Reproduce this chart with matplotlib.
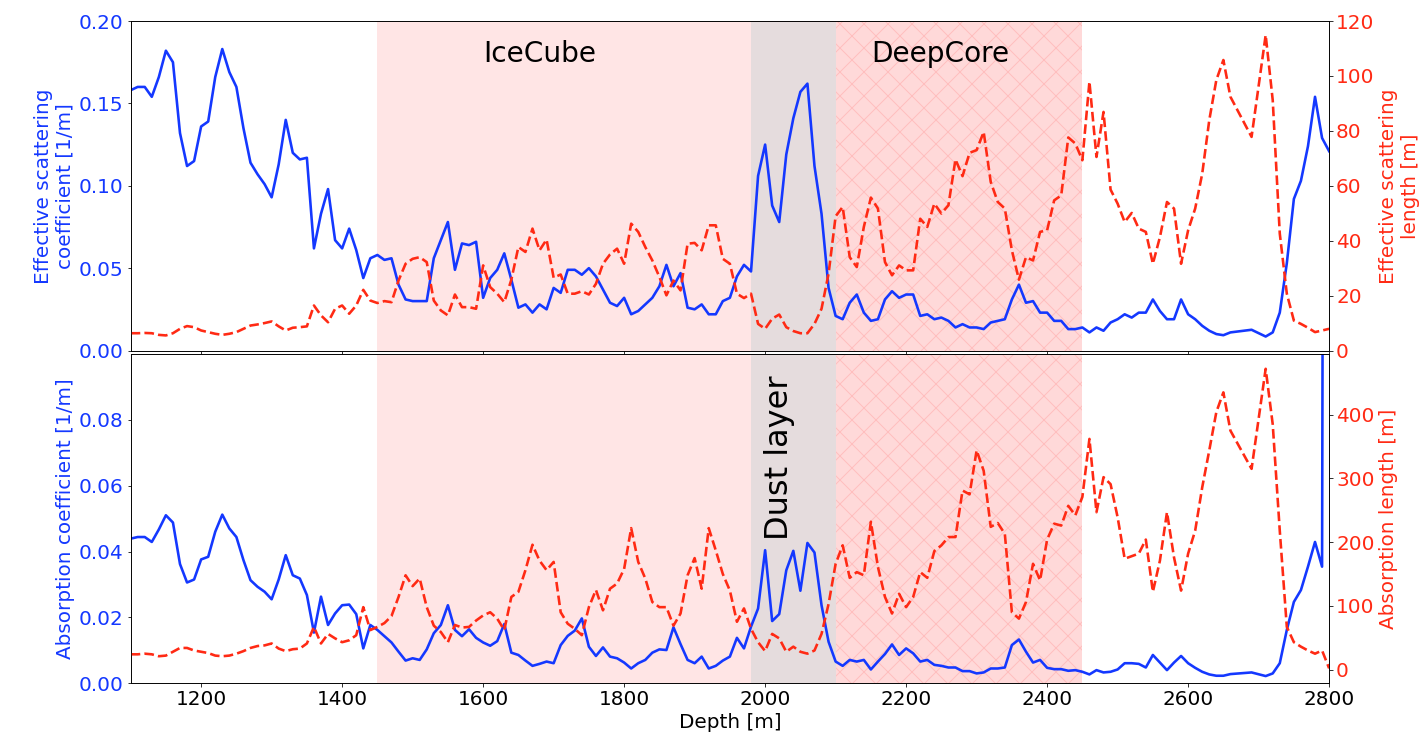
import matplotlib
matplotlib.use('Agg')
import matplotlib.pyplot as plt

depth = list(range(1100, 2670, 10)) + [2690] + list(range(2710, 2810, 10))

scat_coef = [
    .158, .160, .160, .154, .166, .182, .175, .132, .112, .115,
    .136, .139, .166, .183, .169, .160, .135, .114, .107, .101,
    .093, .113, .140, .120, .116, .117, .062, .083, .098, .067,
    .062, .074, .061, .044, .056, .058, .055, .056, .040, .031,
    .030, .030, .030, .056, .067, .078, .049, .065, .064, .066,
    .032, .044, .049, .059, .043, .026, .028, .023, .028, .025,
    .038, .035, .049, .049, .046, .050, .045, .037, .029, .027,
    .032, .022, .024, .028, .032, .039, .052, .039, .047, .026,
    .025, .028, .022, .022, .030, .032, .045, .052, .048, .106,
    .125, .088, .078, .119, .141, .157, .162, .112, .083, .038,
    .021, .019, .029, .034, .023, .018, .019, .031, .036, .032,
    .034, .034, .021, .022, .019, .020, .018, .014, .016, .014,
    .014, .013, .017, .018, .019, .031, .040, .029, .030, .023,
    .023, .018, .018, .013, .013, .014, .011, .014, .012, .017,
    .019, .022, .020, .023, .023, .031, .024, .019, .019, .031,
    .022, .019, .015, .012, .010, .0093, .011, .0126, .0085, .011,
    .023, .053, .092, .103, .124, .154, .129, .121,
]

scat_len = [
    6.3, 6.3, 6.4, 6.3, 5.7, 5.5, 6.3, 7.9, 8.9, 8.5,
    7.3, 6.7, 6.1, 5.7, 6.1, 6.7, 7.9, 9.1, 9.5, 10.0,
    10.6, 8.8, 7.3, 8.3, 8.5, 8.8, 16.4, 12.8, 10.3, 15.2,
    16.4, 13.4, 16.4, 22.1, 18.2, 17.3, 18.0, 17.6, 25.5, 31.6,
    33.4, 34.0, 32.2, 18.2, 14.6, 12.8, 20.4, 15.8, 15.8, 15.2,
    31.0, 23.1, 20.7, 17.6, 25.8, 37.7, 35.9, 44.4, 36.5, 40.4,
    26.5, 27.7, 20.7, 20.7, 21.6, 20.4, 24.3, 31.6, 35.0, 37.1,
    31.6, 46.2, 43.2, 37.7, 32.8, 26.8, 20.1, 25.5, 21.9, 38.9,
    39.2, 36.5, 45.6, 45.6, 33.4, 31.6, 20.7, 19.1, 20.7, 9.7,
    7.9, 11.6, 13.1, 8.5, 7.1, 6.3, 6.3, 9.7, 15.2, 28.0,
    48.9, 52.3, 34.0, 30.4, 45.0, 55.7, 51.7, 32.2, 27.4, 31.0,
    29.2, 29.2, 48.0, 45.0, 53.5, 49.9, 52.9, 69.6, 63.5, 72.0,
    73.0, 79.6, 61.4, 54.1, 51.7, 36.5, 25.8, 34.0, 32.8, 43.2,
    43.8, 54.7, 56.5, 77.6, 75.4, 69.3, 97.9, 70.5, 86.9, 58.6,
    53.5, 46.8, 50.1, 44.4, 43.2, 31.6, 41.3, 54.1, 51.7, 31.6,
    43.8, 51.7, 64.4, 83.9, 98.5, 105.8, 92.4, 77.8, 114.9, 91.2,
    42.6, 20.7, 10.9, 9.7, 8.3, 6.7, 7.3, 7.9,
]

abs_coef = [
    .0439, .0444, .0444, .0429, .0467, .0510, .0488, .0362, .0306, .0315,
    .0376, .0384, .0460, .0512, .0470, .0444, .0374, .0313, .0293, .0278,
    .0255, .0315, .0389, .0328, .0318, .0268, .0154, .0263, .0177, .0212,
    .0237, .0239, .0210, .0106, .0177, .0162, .0143, .0124, .0096, .0069,
    .0076, .0071, .0103, .0152, .0177, .0237, .0162, .0143, .0164, .0138,
    .0124, .0114, .0128, .0180, .0093, .0086, .0069, .0053, .0059, .0066,
    .0061, .0116, .0144, .0160, .0197, .0111, .0083, .0109, .0081, .0076,
    .0063, .0045, .0061, .0071, .0093, .0103, .0101, .0170, .0119, .0071,
    .0061, .0081, .0045, .0053, .0069, .0081, .0138, .0106, .0172, .0227,
    .0404, .0189, .0210, .0343, .0402, .0281, .0426, .0397, .0237, .0126,
    .0066, .0053, .0071, .0066, .0071, .0042, .0066, .0089, .0118, .0086,
    .0106, .0091, .0066, .0071, .0056, .0053, .0048, .0048, .0037, .0037,
    .0030, .0033, .0045, .0045, .0048, .0116, .0133, .0096, .0063, .0071,
    .0047, .0043, .0043, .0038, .0040, .0035, .0027, .0040, .0033, .0035,
    .0042, .0061, .0061, .0059, .0048, .0086, .0063, .0040, .0063, .0083,
    .0061, .0047, .0035, .0027, .0023, .0023, .0028, .0033, .0022, .0030,
    .0061, .0162, .0247, .0283, .0354, .0429, .0354, 1.0,
]

abs_len = [
    24, 24, 25, 24, 21, 22, 28, 34, 34, 30,
    28, 26, 22, 21, 22, 25, 29, 34, 37, 38,
    41, 33, 29, 32, 33, 41, 67, 41, 56, 49,
    43, 46, 54, 98, 62, 67, 73, 84, 114, 148,
    131, 143, 98, 69, 59, 43, 70, 66, 67, 77,
    85, 90, 80, 62, 114, 122, 156, 196, 171, 156,
    169, 90, 72, 64, 54, 98, 125, 93, 127, 135,
    158, 222, 169, 143, 106, 98, 98, 69, 88, 148,
    175, 127, 222, 187, 150, 124, 75, 96, 64, 43,
    29, 56, 49, 28, 36, 28, 25, 30, 56, 103,
    166, 195, 144, 153, 148, 232, 161, 114, 88, 119,
    98, 114, 153, 144, 186, 195, 208, 208, 281, 275,
    344, 312, 224, 230, 213, 90, 80, 106, 166, 140,
    204, 229, 226, 257, 242, 271, 362, 247, 302, 291,
    239, 174, 178, 182, 204, 122, 171, 247, 176, 124,
    182, 218, 286, 344, 404, 435, 375, 315, 472, 385,
    218, 67, 43, 36, 30, 25, 30, 2,
]

scat_coef_ticks = [0.0, 0.05, 0.10, 0.15, 0.20]
abs_coef_ticks = [0.0, 0.02, 0.04, 0.06, 0.08]

BLUE = '#1438ff'
RED = '#ff2a14'
FS = 20
LW = 2.6
DPI = 72

fig, (ax1, ax2) = plt.subplots(2, 1, figsize=(1420 / DPI, 738 / DPI), dpi=DPI, sharex=True)
fig.subplots_adjust(left=0.092, right=0.936, top=0.9715, bottom=0.0741, hspace=0.01)

for ax in (ax1, ax2):
    ax.axvspan(1450, 1980, color='red', alpha=0.1, lw=0)
    ax.axvspan(1980, 2100, color='#e5dcdd', lw=0)
    ax.axvspan(2100, 2450, facecolor=(1, 0, 0, 0.15), edgecolor=(1, 0, 0, 0.12),
               hatch='x', lw=0)

ax1.plot(depth, scat_coef, color=BLUE, lw=LW)
ax1.set_ylim(0, 0.2)
ax1.set_yticks(scat_coef_ticks)
ax1.set_ylabel('Effective scattering\ncoefficient [1/m]', color=BLUE, fontsize=FS)
ax1.tick_params(axis='y', labelcolor=BLUE, labelsize=FS)
ax1.tick_params(axis='x', labelsize=FS)
ax1b = ax1.twinx()
ax1b.plot(depth, scat_len, '--', color=RED, lw=LW)
ax1b.set_ylim(0, 120)
ax1b.set_ylabel('Effective scattering\nlength [m]', color=RED, fontsize=FS)
ax1b.tick_params(axis='y', labelcolor=RED, labelsize=FS)

ax2.plot(depth, abs_coef, color=BLUE, lw=LW)
ax2.set_ylim(0, 0.1)
ax2.set_yticks(abs_coef_ticks)
ax2.set_ylabel('Absorption coefficient [1/m]', color=BLUE, fontsize=FS)
ax2.tick_params(axis='y', labelcolor=BLUE, labelsize=FS)
ax2.tick_params(axis='x', labelsize=FS)
ax2b = ax2.twinx()
ax2b.plot(depth, abs_len, '--', color=RED, lw=LW)
ax2b.set_ylim(-21.5, 495.5)
ax2b.set_ylabel('Absorption length [m]', color=RED, fontsize=FS)
ax2b.tick_params(axis='y', labelcolor=RED, labelsize=FS)

ax2.set_xlim(1100, 2800)
ax2.set_xlabel('Depth [m]', fontsize=FS)

ax1.text(1600, 0.175, 'IceCube', fontsize=28)
ax1.text(2150, 0.175, 'DeepCore', fontsize=28)
ax2.text(1998, 0.0434, 'Dust layer', fontsize=32, rotation=90, ha='left', va='bottom')

fig.savefig('out.png', dpi=DPI)
